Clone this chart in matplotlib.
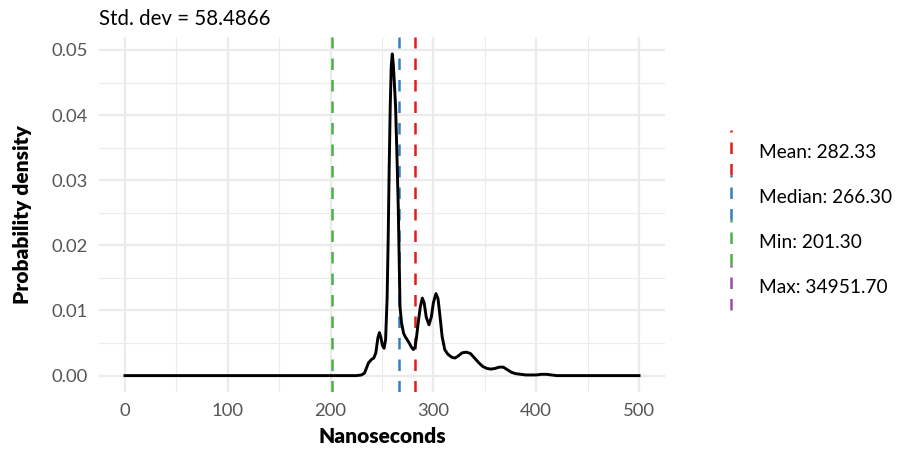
import matplotlib
matplotlib.use("Agg")
import matplotlib.pyplot as plt
from matplotlib.lines import Line2D
from matplotlib.ticker import MultipleLocator

plt.rcParams['font.family'] = ['Lato', 'DejaVu Sans']

# ---- data ----
density_x = [0, 225, 230, 233, 235, 237, 240, 242, 244, 246, 247.5, 249, 250.5, 252,
             253.5, 255, 256, 257, 258, 259, 260, 261, 262, 263.2, 264.5, 265.8, 266.7,
             267.5, 269, 271, 272.5, 274.5, 276.5, 278.5, 280.5, 282, 283.5, 285.2,
             287.2, 289.2, 291, 293, 295.7, 298, 300, 302.5, 304.5, 306.5, 308.5, 311,
             314, 318, 321, 324, 328, 332, 336, 340, 344, 348, 352, 356, 360, 364, 368,
             372, 376, 380, 385, 390, 395, 400, 405, 410, 415, 420, 500]
density_y = [0, 0, 0.0001, 0.0004, 0.0012, 0.0020, 0.0025, 0.0027, 0.0035, 0.0058, 0.0066,
             0.0058, 0.0046, 0.0042, 0.0055, 0.0120, 0.0209, 0.0320, 0.0413, 0.0475, 0.0494,
             0.0478, 0.0450, 0.0413, 0.0340, 0.0260, 0.0180, 0.0106, 0.0081, 0.0065, 0.0060,
             0.0055, 0.0050, 0.0044, 0.0040, 0.0043, 0.0058, 0.0081, 0.0105, 0.0119, 0.0112,
             0.0090, 0.0078, 0.0090, 0.0112, 0.0126, 0.0118, 0.0090, 0.0060, 0.0040, 0.0033,
             0.0028, 0.0027, 0.0030, 0.0035, 0.0036, 0.0034, 0.0027, 0.0020, 0.0014, 0.0011,
             0.0010, 0.0011, 0.0013, 0.0013, 0.0009, 0.0005, 0.0003, 0.0002, 0.0001, 0.0001,
             0.0001, 0.0002, 0.0002, 0.0001, 0, 0]

stat_names = ["Mean", "Median", "Min", "Max"]
stat_values = [282.33, 266.30, 201.30, 34951.70]
stat_colors = ["#E41A1C", "#377EB8", "#4DAF4A", "#984EA3"]
std_dev = 58.4866

x_ticks = [0, 100, 200, 300, 400, 500]
y_ticks = [0.00, 0.01, 0.02, 0.03, 0.04, 0.05]

# ---- figure ----
W, H = 906, 451
fig = plt.figure(figsize=(W / 100, H / 100), dpi=100)
left_px, right_px, top_px, bot_px = 99.3, 664.7, 37.3, 391.7
ax = fig.add_axes([left_px / W, 1 - bot_px / H, (right_px - left_px) / W, (bot_px - top_px) / H])

for s in ax.spines.values():
    s.set_visible(False)

ax.set_xlim(-25, 525)
ax.set_ylim(-0.00247, 0.05195)
ax.set_xticks(x_ticks)
ax.set_xticklabels([str(v) for v in x_ticks])
ax.set_yticks(y_ticks)
ax.set_yticklabels([f"{v:.2f}" for v in y_ticks])
ax.xaxis.set_minor_locator(MultipleLocator(50))
ax.yaxis.set_minor_locator(MultipleLocator(0.005))
ax.grid(which='major', color='#EBEBEB', linewidth=1.6)
ax.grid(which='minor', color='#EBEBEB', linewidth=0.8)
ax.set_axisbelow(True)
ax.tick_params(which='both', length=0)
ax.tick_params(axis='x', pad=8, labelsize=13.3, labelcolor='#555555')
ax.tick_params(axis='y', pad=8, labelsize=13.3, labelcolor='#555555')

dash = (4.6, 4.0)
for v, c in zip(stat_values, stat_colors):
    ax.axvline(v, color=c, linewidth=1.8, linestyle=(0, dash))

ax.plot(density_x, density_y, color='black', linewidth=2.1, solid_joinstyle='round')

ax.set_xlabel("Nanoseconds", fontsize=15, fontweight='heavy', labelpad=6)
ax.set_ylabel("Probability density", fontsize=15, fontweight='heavy', labelpad=14)
ax.set_title(f"Std. dev = {std_dev:.4f}", loc='left', fontsize=14.8, pad=9)

# ---- legend drawn manually with vertical dashed keys ----
centers = [152.5, 197.5, 242.5, 287.5]
for name, v, c, cy in zip(stat_names, stat_values, stat_colors, centers):
    fig.add_artist(Line2D([731 / W, 731 / W], [1 - (cy + 22.5) / H, 1 - (cy - 22.5) / H],
                          color=c, linewidth=1.8, linestyle=(0, dash),
                          transform=fig.transFigure))
    fig.text(759 / W, 1 - cy / H, f"{name}: {v:.2f}", fontsize=13.8, va='center', ha='left',
             color='black')

fig.savefig("out.png", dpi=100, facecolor='white')
